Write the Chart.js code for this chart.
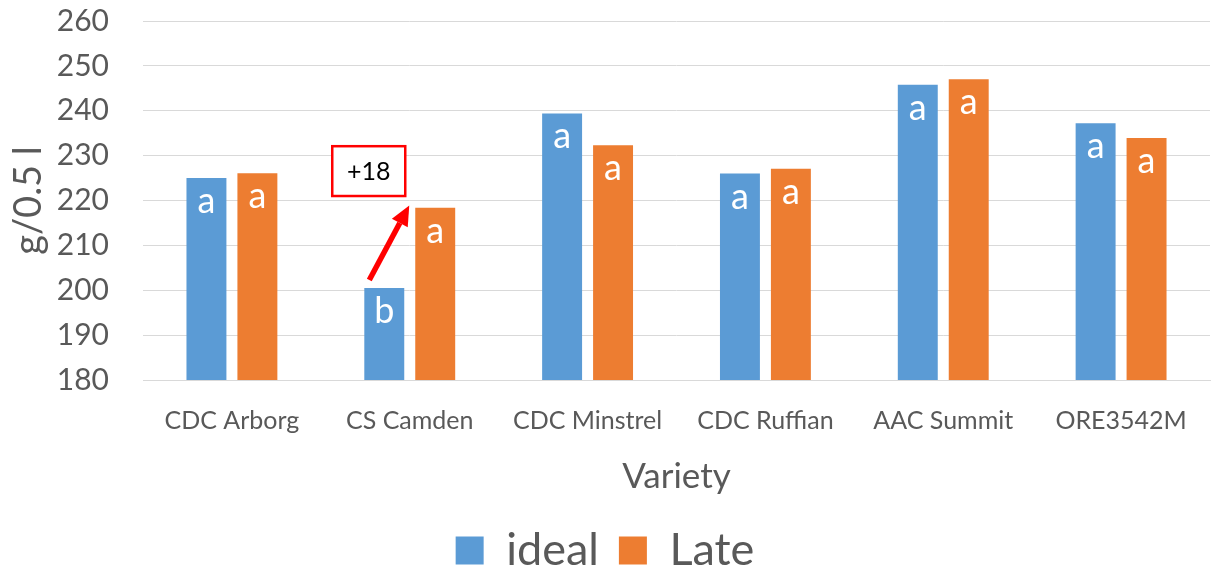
<!DOCTYPE html>
<html>
<head>
<meta charset="utf-8">
<script src="https://cdn.jsdelivr.net/npm/chart.js@4"></script>
<style>
  html, body { margin: 0; padding: 0; background: #fff; }
  #wrap { width: 1211px; height: 574px; }
</style>
</head>
<body>
<div id="wrap"><canvas id="chart"></canvas></div>
<script>
// data
const varieties = ['CDC Arborg', 'CS Camden', 'CDC Minstrel', 'CDC Ruffian', 'AAC Summit', 'ORE3542M'];
const idealValues = [225.0, 200.5, 239.4, 226.0, 245.8, 237.2];
const lateValues = [226.1, 218.4, 232.3, 227.1, 247.0, 233.9];
const idealLetters = ['a', 'b', 'a', 'a', 'a', 'a'];
const lateLetters = ['a', 'a', 'a', 'a', 'a', 'a'];
const yMin = 180, yMax = 260, yStep = 10;
const noteText = '+18';

const FONT = 'Lato, "Open Sans", sans-serif';
const GREY = '#595959';

// white letters inside the top of each bar + the red "+18" callout
const barLetters = {
  id: 'barLetters',
  afterDatasetsDraw(chart) {
    const ctx = chart.ctx;
    const letterSets = [idealLetters, lateLetters];
    ctx.save();
    ctx.fillStyle = '#ffffff';
    ctx.font = '36px ' + FONT;
    ctx.textAlign = 'center';
    ctx.textBaseline = 'alphabetic';
    letterSets.forEach((letters, di) => {
      chart.getDatasetMeta(di).data.forEach((bar, i) => {
        ctx.fillText(letters[i], bar.x, bar.y + 35);
      });
    });

    // callout on CS Camden
    const y = chart.scales.y;
    const ideal = chart.getDatasetMeta(0).data[1];
    const late = chart.getDatasetMeta(1).data[1];
    const boxRight = ideal.x + ideal.width / 2 + 1;
    const boxLeft = boxRight - 73;
    const boxTop = y.getPixelForValue(232.1);
    const boxBottom = y.getPixelForValue(221.0);
    ctx.fillStyle = '#ffffff';
    ctx.fillRect(boxLeft, boxTop, boxRight - boxLeft, boxBottom - boxTop);
    ctx.strokeStyle = '#ff0000';
    ctx.lineWidth = 2.5;
    ctx.strokeRect(boxLeft, boxTop, boxRight - boxLeft, boxBottom - boxTop);
    ctx.fillStyle = '#000000';
    ctx.font = '25px ' + FONT;
    ctx.textBaseline = 'middle';
    ctx.fillText(noteText, (boxLeft + boxRight) / 2, (boxTop + boxBottom) / 2 + 1);

    // arrow
    const x0 = ideal.x - ideal.width / 2 + 5, y0 = ideal.y - 8;
    const x1 = late.x - late.width / 2 - 6, y1 = y.getPixelForValue(218.9);
    const ang = Math.atan2(y1 - y0, x1 - x0);
    const head = 20, hw = 9;
    const bx = x1 - head * Math.cos(ang), by = y1 - head * Math.sin(ang);
    ctx.strokeStyle = '#ff0000';
    ctx.lineWidth = 5.5;
    ctx.beginPath();
    ctx.moveTo(x0, y0);
    ctx.lineTo(bx, by);
    ctx.stroke();
    ctx.fillStyle = '#ff0000';
    ctx.beginPath();
    ctx.moveTo(x1, y1);
    ctx.lineTo(bx + hw * Math.sin(ang), by - hw * Math.cos(ang));
    ctx.lineTo(bx - hw * Math.sin(ang), by + hw * Math.cos(ang));
    ctx.closePath();
    ctx.fill();
    ctx.restore();
  }
};

const ctx = document.getElementById('chart').getContext('2d');
const chart = new Chart(ctx, {
  type: 'bar',
  data: {
    labels: varieties,
    datasets: [
      { label: 'ideal', data: idealValues, backgroundColor: '#5B9BD5' },
      { label: 'Late', data: lateValues, backgroundColor: '#ED7D31' }
    ]
  },
  options: {
    responsive: true,
    maintainAspectRatio: false,
    animation: false,
    devicePixelRatio: 1,
    categoryPercentage: 0.573,
    barPercentage: 0.784,
    layout: { padding: { top: 21, right: 1, left: 0, bottom: -9 } },
    plugins: {
      tooltip: { enabled: false },
      legend: {
        position: 'bottom',
        labels: {
          color: GREY,
          font: { family: FONT, size: 45 },
          boxWidth: 28,
          boxHeight: 28,
          padding: 20
        }
      }
    },
    scales: {
      x: {
        grid: { display: false },
        border: { display: true, color: '#d9d9d9' },
        ticks: { color: GREY, font: { family: FONT, size: 25 }, padding: 18, maxRotation: 0 },
        title: { display: true, text: 'Variety', color: GREY, font: { family: FONT, size: 35 }, padding: { top: 2, bottom: 10 } }
      },
      y: {
        min: yMin,
        max: yMax,
        ticks: { stepSize: yStep, color: GREY, font: { family: FONT, size: 30 }, padding: 34 },
        grid: { color: '#d9d9d9', lineWidth: 1, drawTicks: false },
        border: { display: false },
        title: { display: true, text: 'g/0.5 l', color: GREY, font: { family: FONT, size: 38 }, padding: { top: 6, bottom: 0 } },
        afterFit(scale) {
          scale.width = 143;
          scale.paddingTop = 0;
          scale.paddingBottom = 0;
        }
      }
    }
  },
  plugins: [barLetters]
});
</script>
</body>
</html>
